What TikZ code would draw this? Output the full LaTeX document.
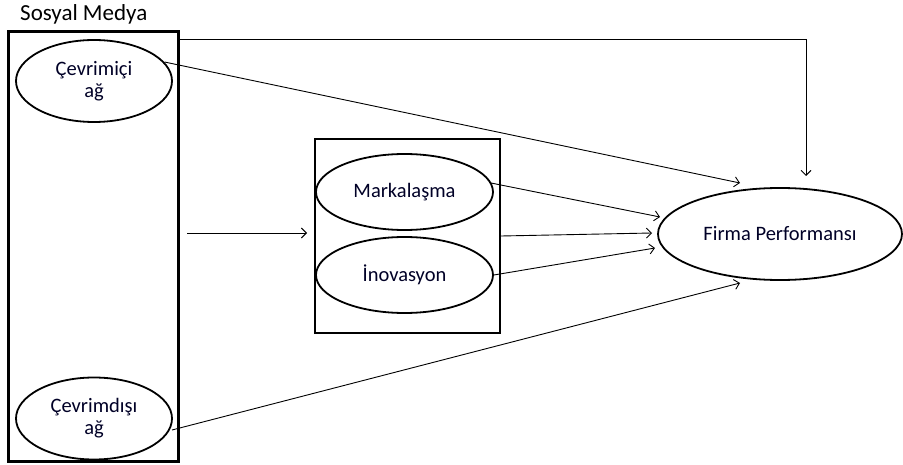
\documentclass[tikz,border=0pt]{standalone}
\usepackage{fontspec}
\setmainfont{Carlito}
\usetikzlibrary{shapes.geometric,arrows.meta}
\begin{document}
\begin{tikzpicture}[x=1pt,y=-1pt,
  boxst/.style={draw,line width=2.4pt},
  ell/.style={draw,line width=1.8pt,ellipse,inner sep=0pt,align=center,font=\fontsize{20.5}{22}\selectfont,text=black!85!blue},
  conn/.style={line width=0.9pt,-{Straight Barb[length=5pt,width=10pt,line width=0.9pt]}}]
\useasboundingbox (0,0) rectangle (903,465);
% left box
\node[boxst,minimum width=170pt,minimum height=430pt,inner sep=0pt] (lbox) at (93.5,246.5) {};
\node[font=\fontsize{23}{26}\selectfont,anchor=west,inner sep=0pt] (title) at (20,14) {Sosyal Medya};
\node[ell,minimum width=156pt,minimum height=82pt] (cevon) at (94,81) {Çevrimiçi\\ağ};
\node[ell,minimum width=156pt,minimum height=82pt] (cevoff) at (94,418.5) {Çevrimdışı\\ağ};
% middle box
\node[boxst,minimum width=185pt,minimum height=194pt,inner sep=0pt] (mbox) at (407.5,236) {};
\node[ell,minimum width=177pt,minimum height=76pt] (mark) at (404.5,192) {Markalaşma};
\node[ell,minimum width=177pt,minimum height=76pt] (inov) at (404.5,275) {İnovasyon};
% firm
\node[ell,minimum width=244pt,minimum height=92pt] (firm) at (780,234) {Firma Performansı};
% connectors
\coordinate (c1) at (806,39);
\coordinate (tstart) at (179,39);
\coordinate (c1end) at (806,176);
\draw[conn] (tstart) -- (c1) -- (c1end);
\coordinate (onstart) at (164.5,62);
\coordinate (onend) at (740,183);
\draw[conn] (onstart) -- (onend);
\coordinate (ma) at (187,233);
\coordinate (mb) at (307,233);
\draw[conn] (ma) -- (mb);
\coordinate (mk) at (491,183);
\coordinate (mkend) at (660,217);
\draw[conn] (mk) -- (mkend);
\coordinate (mbend) at (652,233);
\draw[conn] (mbox.east) -- (mbend);
\coordinate (inend) at (655,248);
\draw[conn] (inov.east) -- (inend);
\coordinate (offstart) at (172,430);
\coordinate (offend) at (740,283);
\draw[conn] (offstart) -- (offend);
\end{tikzpicture}
\end{document}
